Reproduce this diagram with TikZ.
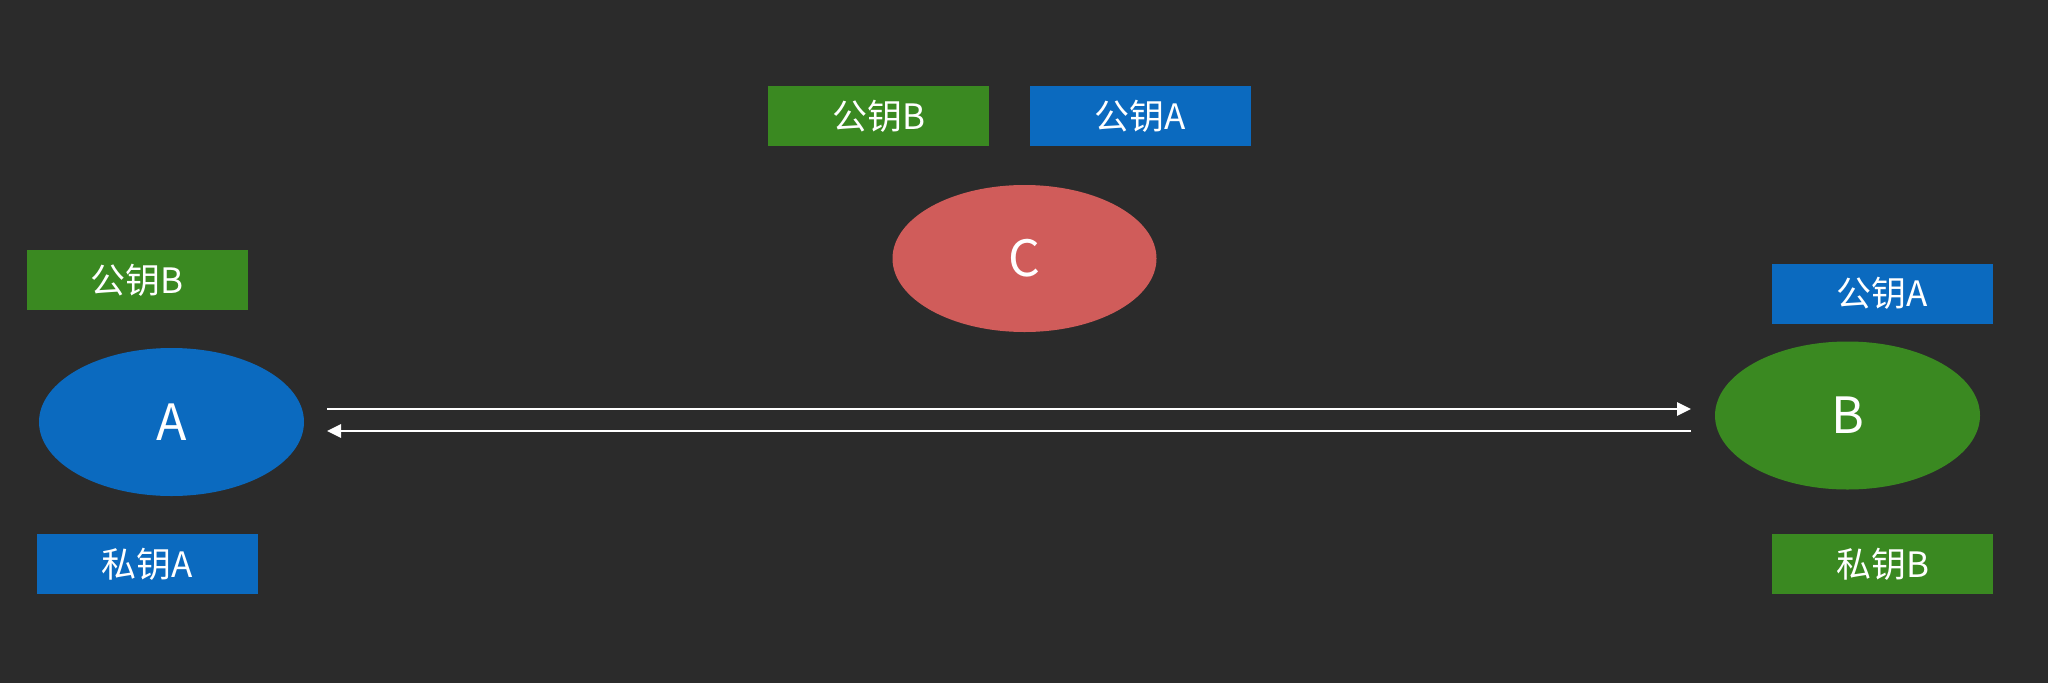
\documentclass[tikz,border=0pt]{standalone}
\usepackage{fontspec}
\setmainfont{Noto Sans CJK SC}
\usetikzlibrary{shapes.geometric,arrows.meta}
\definecolor{bgc}{RGB}{43,43,43}
\definecolor{kgreen}{RGB}{58,137,33}
\definecolor{kblue}{RGB}{11,106,191}
\definecolor{kred}{RGB}{208,92,90}
\tikzset{
  keybox/.style={rectangle, minimum width=221pt, minimum height=60pt, inner sep=0pt, text=white, font=\fontsize{35}{40}\selectfont},
  party/.style={ellipse, minimum width=265pt, minimum height=148pt, inner sep=0pt, text=white, font=\fontsize{50}{56}\selectfont},
  msg/.style={draw=white, line width=2.7pt, -{Triangle[length=14pt,width=13pt]}}
}
\begin{document}
\begin{tikzpicture}[x=1pt,y=-1pt]
\fill[bgc] (0,0) rectangle (2048,683);
\useasboundingbox (0,0) rectangle (2048,683);
% top keys
\node[keybox, fill=kgreen] (tpb) at (878.5,116) {公钥B};
\node[keybox, fill=kblue] (tpa) at (1140.5,116) {公钥A};
% C
\node[party, fill=kred, minimum width=264pt, minimum height=147pt] (C) at (1024.5,258.5) {C};
% A side
\node[keybox, fill=kgreen] (apb) at (137,280) {公钥B};
\node[party, fill=kblue] (A) at (171.5,422) {A};
\node[keybox, fill=kblue] (apk) at (147.5,564) {私钥A};
% B side
\node[keybox, fill=kblue] (bpa) at (1882.5,293.5) {公钥A};
\node[party, fill=kgreen] (B) at (1847.5,415.5) {B};
\node[keybox, fill=kgreen] (bpk) at (1882.5,564) {私钥B};
% arrows
\coordinate (a1) at (327,409);
\coordinate (b1) at (1691,409);
\coordinate (a2) at (327,431);
\coordinate (b2) at (1691,431);
\draw[msg] (a1) -- (b1);
\draw[msg] (b2) -- (a2);
\end{tikzpicture}
\end{document}
